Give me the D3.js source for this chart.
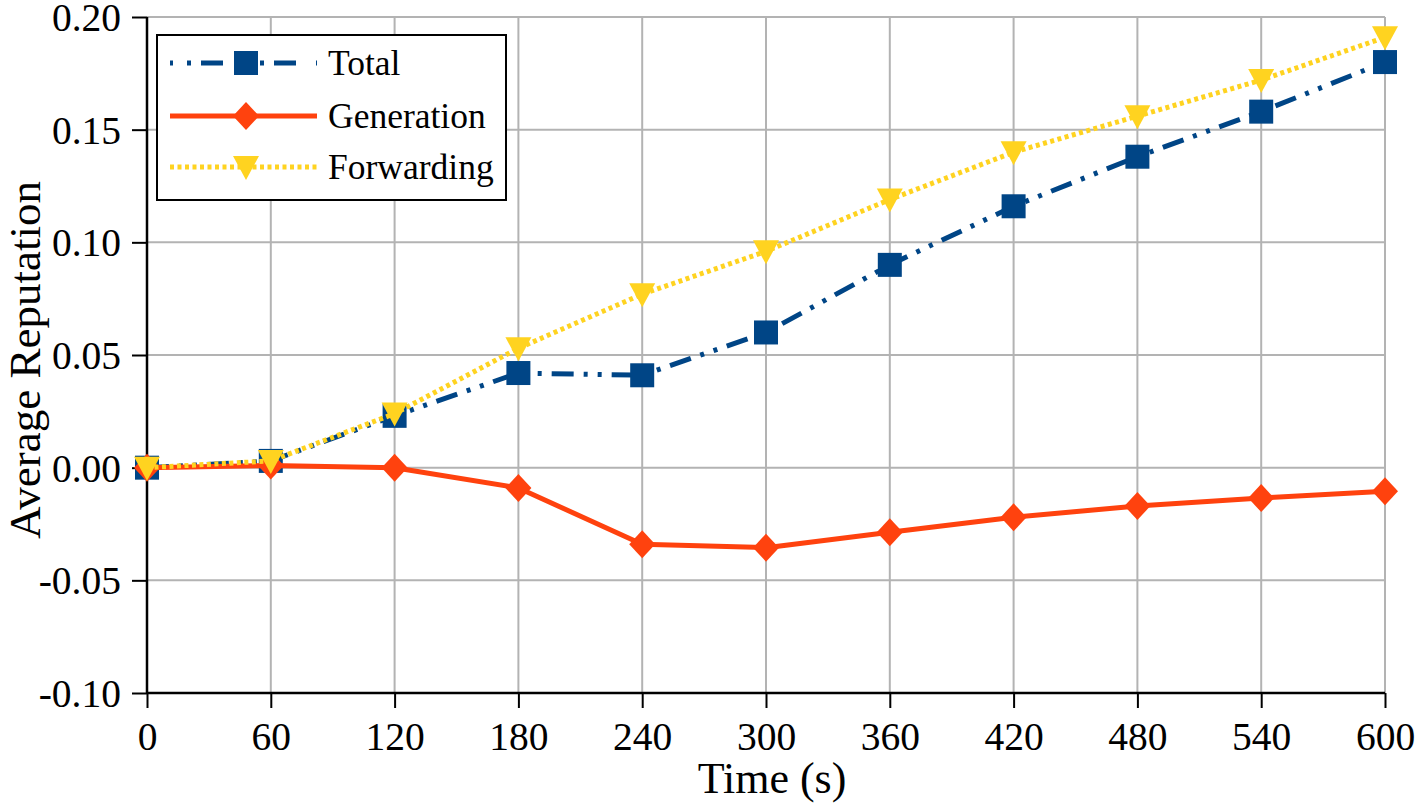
<!DOCTYPE html>
<html><head><meta charset="utf-8">
<script src="https://cdn.jsdelivr.net/npm/d3@7"></script>
<style>body{margin:0;background:#fff}svg{display:block}</style>
</head><body>
<svg id="c" width="1415" height="805"></svg>
<script>
const times = [0, 60, 120, 180, 240, 300, 360, 420, 480, 540, 600];
const total = [0.000, 0.003, 0.023, 0.042, 0.041, 0.060, 0.090, 0.116, 0.138, 0.158, 0.180];
const generation = [0.000, 0.001, 0.000, -0.009, -0.034, -0.0355, -0.0287, -0.022, -0.017, -0.0135, -0.0105];
const forwarding = [0.000, 0.003, 0.024, 0.053, 0.077, 0.096, 0.119, 0.140, 0.156, 0.172, 0.191];
const yTicks = [-0.10, -0.05, 0.00, 0.05, 0.10, 0.15, 0.20];
const seriesNames = ["Total", "Generation", "Forwarding"];

const FONT = "Liberation Serif";
const svg = d3.select("#c");
const L = 147, R = 1385, T = 17, B = 693;
const x = d3.scaleLinear().domain([0, 600]).range([L, R]);
const y = d3.scaleLinear().domain([-0.10, 0.20]).range([B, T]);

// grid
const g = svg.append("g");
g.selectAll(".vg").data(times).join("line")
  .attr("x1", d => x(d)).attr("x2", d => x(d)).attr("y1", T).attr("y2", B)
  .attr("stroke", "#b3b3b3").attr("stroke-width", 2);
g.selectAll(".hg").data(yTicks).join("line")
  .attr("x1", L).attr("x2", R).attr("y1", d => y(d)).attr("y2", d => y(d))
  .attr("stroke", "#b3b3b3").attr("stroke-width", 2);

// axes
const xAxis = svg.append("g").attr("transform", `translate(0,${B})`)
  .call(d3.axisBottom(x).tickValues(times).tickSize(15).tickPadding(14).tickFormat(d3.format("d")));
const yAxis = svg.append("g").attr("transform", `translate(${L},0)`)
  .call(d3.axisLeft(y).tickValues(yTicks).tickSize(15).tickPadding(11).tickFormat(d => d3.format(".2f")(d).replace("−", "-")));
[xAxis, yAxis].forEach(a => {
  a.attr("font-family", FONT).attr("font-size", 39.5);
  a.select(".domain").attr("stroke", "#000").attr("stroke-width", 2.5);
  a.selectAll(".tick line").attr("stroke", "#000").attr("stroke-width", 2);
  a.selectAll(".tick text").attr("fill", "#000");
});
xAxis.select(".domain").attr("d", `M${L},0H${R}`);
yAxis.select(".domain").attr("d", `M0,${B}V${T}`);
yAxis.selectAll(".tick text").attr("dy", "0.34em");

// titles
svg.append("text").attr("x", 772).attr("y", 793).attr("text-anchor", "middle")
  .attr("font-family", FONT).attr("font-size", 44).text("Time (s)");
svg.append("text").attr("transform", "translate(40,360) rotate(-90)").attr("text-anchor", "middle")
  .attr("font-family", FONT).attr("font-size", 45).text("Average Reputation");

const colors = ["#004586", "#ff420e", "#ffd320"];
const dashes = ["22,10,4,10,4,10", null, "4,3.5"];
const datas = [total, generation, forwarding];
const line = d3.line().x((d, i) => x(times[i])).y(d => y(d));

function marker(sel, k) {
  if (k === 0) sel.append("rect").attr("x", -12).attr("y", -12).attr("width", 24).attr("height", 24).attr("fill", colors[0]);
  else if (k === 1) sel.append("path").attr("d", "M0,-14L13,0L0,14L-13,0Z").attr("fill", colors[1]);
  else sel.append("path").attr("d", "M-13,-11L13,-11L0,13Z").attr("fill", colors[2]);
}

datas.forEach((data, k) => {
  svg.append("path").datum(data).attr("d", line).attr("fill", "none")
    .attr("stroke", colors[k]).attr("stroke-width", 5)
    .attr("stroke-dasharray", dashes[k]).attr("stroke-linejoin", "round");
  svg.append("g").selectAll("g").data(data).join("g")
    .attr("transform", (d, i) => `translate(${x(times[i])},${y(d)})`)
    .each(function () { marker(d3.select(this), k); });
});

// legend
const lg = svg.append("g");
lg.append("rect").attr("x", 157).attr("y", 35).attr("width", 349).attr("height", 165)
  .attr("fill", "#fff").attr("stroke", "#000").attr("stroke-width", 2);
const rowsY = [63, 116, 167];
seriesNames.forEach((name, k) => {
  lg.append("line").attr("x1", 170).attr("x2", 317).attr("y1", rowsY[k]).attr("y2", rowsY[k])
    .attr("stroke", colors[k]).attr("stroke-width", 5).attr("stroke-dasharray", k === 0 ? "3,14,4,10,22,20" : dashes[k]);
  marker(lg.append("g").attr("transform", `translate(246,${rowsY[k]})`), k);
  lg.append("text").attr("x", 328).attr("y", rowsY[k] + 12)
    .attr("font-family", FONT).attr("font-size", 35.5).text(name);
});
</script>
</body></html>
